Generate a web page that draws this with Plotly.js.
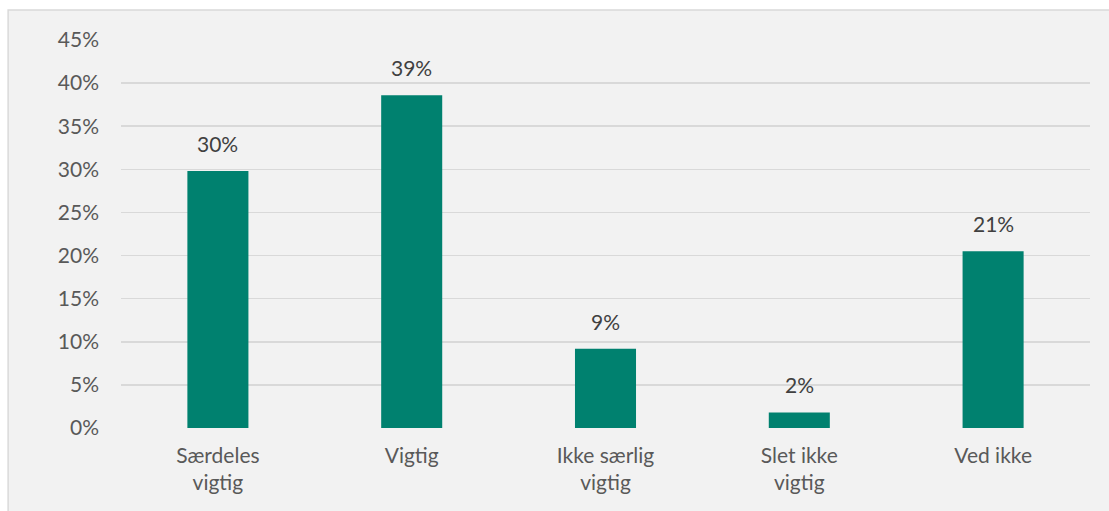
<!DOCTYPE html>
<html>
<head>
<meta charset="utf-8">
<script src="https://cdn.plot.ly/plotly-3.0.1.min.js"></script>
<style>html,body{margin:0;padding:0;background:#fff;}#chart{width:1109px;height:511px;}</style>
</head>
<body>
<div id="chart"></div>
<script>
const categories = ["Særdeles<br>vigtig", "Vigtig", "Ikke særlig<br>vigtig", "Slet ikke<br>vigtig", "Ved ikke"];
const values = [0.298, 0.386, 0.092, 0.018, 0.205];
const labels = ["30%", "39%", "9%", "2%", "21%"];
const yTickVals = [0, 0.05, 0.10, 0.15, 0.20, 0.25, 0.30, 0.35, 0.40, 0.45];
const yTickText = ["0%", "5%", "10%", "15%", "20%", "25%", "30%", "35%", "40%", "45%"];

const font = "Lato, 'Open Sans', sans-serif";

const trace = {
  type: "bar",
  x: categories,
  y: values,
  marker: {color: "#00816F"},
  width: 0.315,
  hoverinfo: "skip"
};

const annotations = categories.map((c, i) => ({
  x: c, y: values[i], xref: "x", yref: "y",
  text: labels[i], showarrow: false,
  yanchor: "bottom", yshift: 13,
  font: {family: font, size: 21, color: "#404040"}
}));

const layout = {
  width: 1109, height: 511,
  margin: {l: 121, r: 19, t: 40, b: 83, pad: 0},
  paper_bgcolor: "#ffffff",
  plot_bgcolor: "rgba(0,0,0,0)",
  showlegend: false,
  font: {family: font, size: 21, color: "#595959"},
  xaxis: {
    type: "category",
    showgrid: false, zeroline: false, showline: false,
    ticks: "", ticklabelstandoff: 13,
    tickfont: {family: font, size: 21, color: "#595959"},
    fixedrange: true
  },
  yaxis: {
    range: [0, 0.45],
    tickvals: yTickVals, ticktext: yTickText,
    showgrid: true, gridcolor: "#D9D9D9", gridwidth: 1.5,
    zeroline: false, showline: false, ticks: "",
    ticklabelstandoff: 21,
    tickfont: {family: font, size: 21, color: "#595959"},
    fixedrange: true
  },
  shapes: [{
    type: "rect", xref: "paper", yref: "paper", layer: "below",
    x0: -113/970, x1: 1.2, y0: -0.5, y1: 1 + 30/388,
    fillcolor: "#F2F2F2", line: {color: "#D9D9D9", width: 1.5}
  }],
  annotations: annotations,
  bargap: 0.685
};

Plotly.newPlot("chart", [trace], layout, {displayModeBar: false, staticPlot: true});
</script>
</body>
</html>
